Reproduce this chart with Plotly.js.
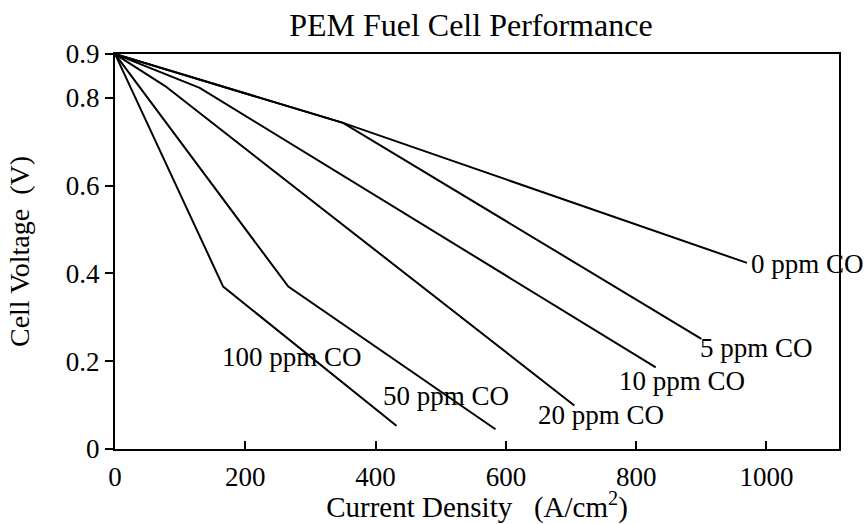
<!DOCTYPE html>
<html>
<head>
<meta charset="utf-8">
<script src="https://cdn.plot.ly/plotly-3.0.1.min.js"></script>
<style>html,body{margin:0;padding:0;background:#fff;}</style>
</head>
<body>
<div id="chart" style="width:864px;height:524px;"></div>
<script>
// Current density (A/cm^2) and cell voltage (V) for each CO level
const seriesNames = ['0 ppm CO', '5 ppm CO', '10 ppm CO', '20 ppm CO', '50 ppm CO', '100 ppm CO'];
const current0   = [0, 350, 970];
const voltage0   = [0.9, 0.743, 0.424];
const current5   = [0, 350, 900];
const voltage5   = [0.9, 0.743, 0.251];
const current10  = [0, 130, 830];
const voltage10  = [0.9, 0.823, 0.186];
const current20  = [0, 77, 705];
const voltage20  = [0.9, 0.827, 0.099];
const current50  = [0, 266, 584];
const voltage50  = [0.9, 0.370, 0.045];
const current100 = [0, 166, 432];
const voltage100 = [0.9, 0.370, 0.053];

// Label anchor positions (data coordinates)
const labelX = [979, 901, 777, 652, 414, 168];
const labelY = [0.4215, 0.231, 0.155, 0.0775, 0.121, 0.2085];

const xTicks = [0, 200, 400, 600, 800, 1000];
const yTicks = [0, 0.2, 0.4, 0.6, 0.8, 0.9];
const yTickText = ['0', '0.2', '0.4', '0.6', '0.8', '0.9'];

const xs = [current0, current5, current10, current20, current50, current100];
const ys = [voltage0, voltage5, voltage10, voltage20, voltage50, voltage100];

const FONT = '"Liberation Serif", "Times New Roman", Times, serif';

const traces = xs.map((x, i) => ({
  x: x, y: ys[i], name: seriesNames[i],
  type: 'scatter', mode: 'lines',
  line: {color: '#000', width: 2},
  cliponaxis: false,
  showlegend: false
}));

const annotations = seriesNames.map((t, i) => ({
  x: labelX[i], y: labelY[i], xref: 'x', yref: 'y',
  text: t, showarrow: false, xanchor: 'left', yanchor: 'middle',
  xshift: -4,
  font: {family: FONT, size: 27, color: '#000'}
}));

const layout = {
  width: 864, height: 524,
  paper_bgcolor: '#fff', plot_bgcolor: '#fff',
  margin: {l: 115, r: 25, t: 54, b: 75},
  font: {family: FONT, color: '#000'},
  showlegend: false,
  title: {
    text: 'PEM Fuel Cell Performance',
    font: {family: FONT, size: 32, color: '#000'},
    xref: 'container', x: 0.545, xanchor: 'center',
    yref: 'container', y: 0.952, yanchor: 'middle'
  },
  xaxis: {
    range: [0, 1111.3],
    tickvals: xTicks,
    ticks: 'inside', ticklen: 8, tickwidth: 2, tickcolor: '#000',
    showline: true, linewidth: 2, linecolor: '#000', mirror: true,
    showgrid: false, zeroline: false,
    tickfont: {family: FONT, size: 27, color: '#000'},
    ticklabelstandoff: 3,
    title: {text: 'Current Density&nbsp;&nbsp; (A/cm<sup>2</sup>)', font: {family: FONT, size: 29, color: '#000'}, standoff: 11},
    automargin: false
  },
  yaxis: {
    range: [0, 0.9],
    tickvals: yTicks, ticktext: yTickText,
    ticks: 'outside', ticklen: 8, tickwidth: 2, tickcolor: '#000',
    showline: true, linewidth: 2, linecolor: '#000', mirror: true,
    showgrid: false, zeroline: false,
    tickfont: {family: FONT, size: 27, color: '#000'},
    title: {text: 'Cell Voltage&nbsp;&nbsp;(V)', font: {family: FONT, size: 28, color: '#000'}, standoff: 28},
    automargin: false
  },
  annotations: annotations
};

Plotly.newPlot('chart', traces, layout, {displayModeBar: false, staticPlot: true});
</script>
</body>
</html>
